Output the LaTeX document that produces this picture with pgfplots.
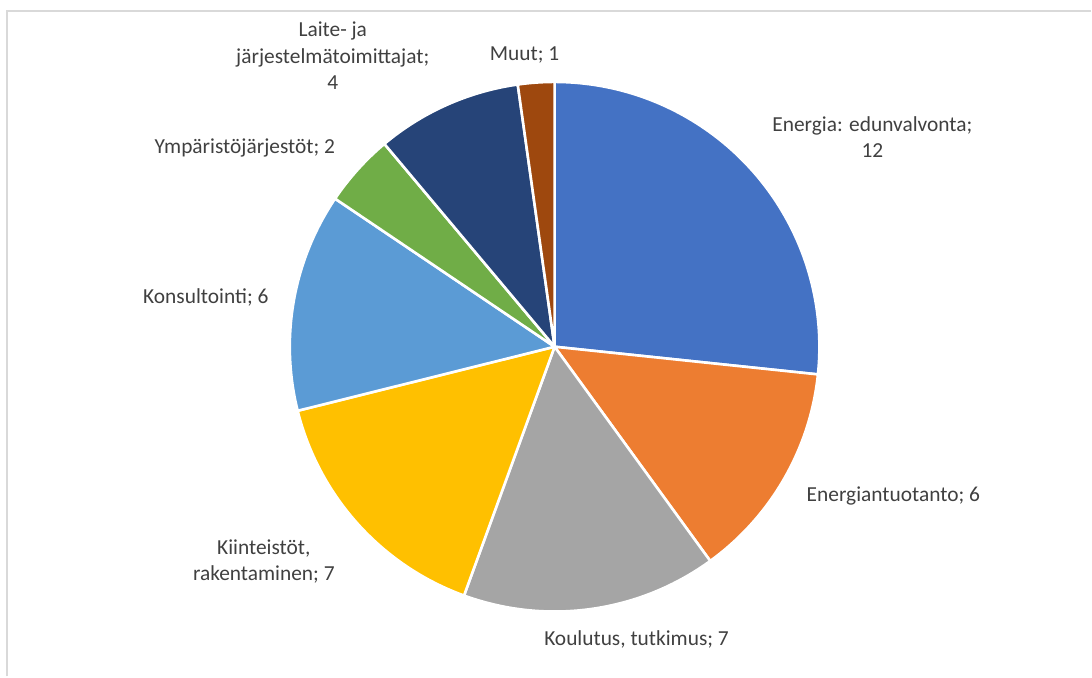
\documentclass[border=0pt]{standalone}
\usepackage{pgfplots}
\pgfplotsset{compat=1.18}
\usepackage{fontspec}
\setmainfont{Carlito}
\definecolor{c1}{HTML}{4472C4}
\definecolor{c2}{HTML}{ED7D31}
\definecolor{c3}{HTML}{A5A5A5}
\definecolor{c4}{HTML}{FFC000}
\definecolor{c5}{HTML}{5B9BD5}
\definecolor{c6}{HTML}{70AD47}
\definecolor{c7}{HTML}{264478}
\definecolor{c8}{HTML}{9E480E}
\definecolor{txt}{HTML}{404040}
\definecolor{frame}{HTML}{D9D9D9}
\tikzset{lbl/.style={font=\fontsize{10.7}{13.3}\selectfont, text=txt, align=center}}
% pie: total 45, centre (555,330), radius 265 (pixel units)
\newcommand\slice[3]{% #1 cumulative before, #2 value, #3 colour
  \pgfmathsetmacro\angS{90-(#1)*360/45}%
  \pgfmathsetmacro\angE{90-(#1+#2)*360/45}%
  \addplot[fill=#3, draw=white, line width=1.3pt, line join=round,
    domain=\angS:\angE, samples=90, variable=\t]
    ({555+265*cos(\t)},{330+265*sin(\t)}) -- (axis cs:555,330) -- cycle;
}
\begin{document}
\begin{tikzpicture}
\begin{axis}[
  width=546pt, height=338.5pt, scale only axis,
  xmin=0, xmax=1092, ymin=0, ymax=677,
  hide axis, clip=false,
]
\path (axis cs:0,0) rectangle (axis cs:1092,677);
\draw[frame, line width=0.8pt] (axis cs:7,0) -- (axis cs:7,666) -- (axis cs:1092,666);
\slice{0}{12}{c1}
\slice{12}{6}{c2}
\slice{18}{7}{c3}
\slice{25}{7}{c4}
\slice{32}{6}{c5}
\slice{38}{2}{c6}
\slice{40}{4}{c7}
\slice{44}{1}{c8}
\node[lbl] at (axis cs:873,540) {Energia: edunvalvonta;\\12};
\node[lbl] at (axis cs:894,181) {Energiantuotanto; 6};
\node[lbl] at (axis cs:637,37) {Koulutus, tutkimus; 7};
\node[lbl] at (axis cs:264,115) {Kiinteistöt,\\rakentaminen; 7};
\node[lbl] at (axis cs:206,379) {Konsultointi; 6};
\node[lbl] at (axis cs:245,529) {Ympäristöjärjestöt; 2};
\node[lbl] at (axis cs:333,621) {Laite- ja\\järjestelmätoimittajat;\\4};
\node[lbl] at (axis cs:525,622) {Muut; 1};
\end{axis}
\end{tikzpicture}
\end{document}
